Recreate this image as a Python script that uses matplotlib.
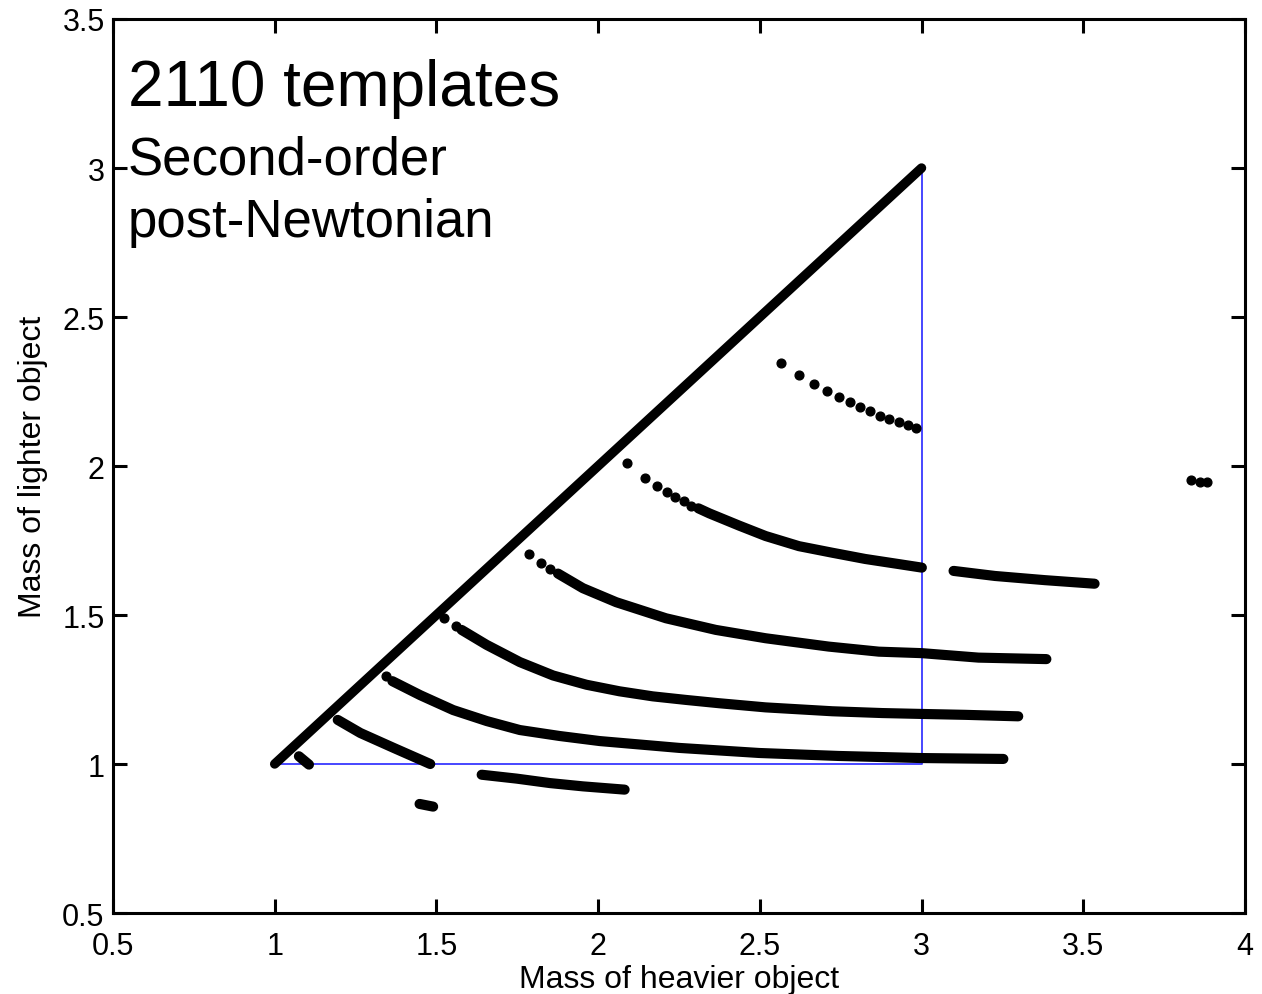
import matplotlib
matplotlib.use("Agg")
import matplotlib.pyplot as plt

plt.rcParams['font.family'] = ['Liberation Sans', 'DejaVu Sans']

# --- DATA ---
# boundary of the template region (blue)
BORDE_X = [1.0, 3.0, 3.0]
BORDE_Y = [1.0, 1.0, 3.0]

# equal-mass diagonal (dense templates)
DIAG_X = [1.0, 3.0]
DIAG_Y = [1.0, 3.0]

# sparse templates (individual dots)
PUNTOS_X = [2.565, 2.621, 2.667, 2.708, 2.745, 2.780, 2.811, 2.841, 2.871, 2.900, 2.930, 2.957, 2.984,
            2.089, 2.144, 2.182, 2.212, 2.239, 2.266, 2.288,
            1.787, 1.824, 1.851,
            1.524, 1.561,
            1.345,
            3.833, 3.862, 3.884]
PUNTOS_Y = [2.346, 2.306, 2.276, 2.252, 2.231, 2.215, 2.198, 2.183, 2.169, 2.158, 2.146, 2.137, 2.126,
            2.011, 1.960, 1.932, 1.912, 1.896, 1.883, 1.867,
            1.704, 1.676, 1.654,
            1.491, 1.463,
            1.295,
            1.952, 1.947, 1.947]

# dense template bands
BANDA_B_X = [2.310, 2.344, 2.436, 2.518, 2.621, 2.724, 2.826, 2.929, 3.001]
BANDA_B_Y = [1.858, 1.841, 1.800, 1.765, 1.731, 1.709, 1.688, 1.671, 1.659]

BANDA_B2_X = [3.099, 3.227, 3.381, 3.535]
BANDA_B2_Y = [1.648, 1.631, 1.617, 1.605]

BANDA_C_X = [1.876, 1.953, 2.056, 2.210, 2.364, 2.518, 2.713, 2.868, 3.001, 3.176, 3.386]
BANDA_C_Y = [1.639, 1.590, 1.543, 1.489, 1.450, 1.422, 1.394, 1.377, 1.372, 1.357, 1.352]

BANDA_D_X = [1.578, 1.655, 1.758, 1.861, 1.964, 2.066, 2.169, 2.272, 2.374, 2.518, 2.724, 2.878, 3.001, 3.135, 3.299]
BANDA_D_Y = [1.450, 1.400, 1.342, 1.297, 1.266, 1.244, 1.227, 1.215, 1.204, 1.190, 1.177, 1.171, 1.168, 1.165, 1.160]

BANDA_E_X = [1.364, 1.450, 1.552, 1.656, 1.758, 1.881, 2.005, 2.251, 2.498, 2.744, 3.000, 3.253]
BANDA_E_Y = [1.278, 1.231, 1.181, 1.144, 1.114, 1.094, 1.077, 1.054, 1.037, 1.027, 1.020, 1.017]

BANDA_F_X = [1.195, 1.265, 1.368, 1.481]
BANDA_F_Y = [1.148, 1.104, 1.054, 1.000]

BANDA_G_X = [1.075, 1.106]
BANDA_G_Y = [1.026, 0.998]

BANDA_H_X = [1.640, 1.748, 1.851, 1.953, 2.082]
BANDA_H_Y = [0.964, 0.951, 0.936, 0.925, 0.914]

BANDA_I_X = [1.448, 1.490]
BANDA_I_Y = [0.866, 0.857]

BANDAS = [(BANDA_B_X, BANDA_B_Y), (BANDA_B2_X, BANDA_B2_Y), (BANDA_C_X, BANDA_C_Y),
          (BANDA_D_X, BANDA_D_Y), (BANDA_E_X, BANDA_E_Y), (BANDA_F_X, BANDA_F_Y),
          (BANDA_G_X, BANDA_G_Y), (BANDA_H_X, BANDA_H_Y), (BANDA_I_X, BANDA_I_Y)]

TICKS_X = [0.5, 1, 1.5, 2, 2.5, 3, 3.5, 4]
TICKS_Y = [0.5, 1, 1.5, 2, 2.5, 3, 3.5]
ETIQ_X = ['0.5', '1', '1.5', '2', '2.5', '3', '3.5', '4']
ETIQ_Y = ['0.5', '1', '1.5', '2', '2.5', '3', '3.5']

# --- FIGURA ---
fig = plt.figure(figsize=(12.62, 9.95), dpi=100)
ax = fig.add_axes([0.0895, 0.0814, 0.8970, 0.8985])

ax.plot(BORDE_X, BORDE_Y, color='#3838ff', lw=1.3, zorder=1)
ax.plot(DIAG_X, DIAG_Y, color='black', lw=6.8, solid_capstyle='round', zorder=2)
for bx, by in BANDAS:
    ax.plot(bx, by, color='black', lw=7.3, solid_capstyle='round', zorder=2)
ax.plot(PUNTOS_X, PUNTOS_Y, 'o', color='black', ms=6.3, zorder=3)

ax.set_xlim(0.5, 4)
ax.set_ylim(0.5, 3.5)
ax.set_xticks(TICKS_X)
ax.set_xticklabels(ETIQ_X)
ax.set_yticks(TICKS_Y)
ax.set_yticklabels(ETIQ_Y)
ax.tick_params(direction='in', length=10, width=2.2, labelsize=22,
               top=True, right=True, pad=6)
ax.tick_params(axis='x', pad=13)
for s in ax.spines.values():
    s.set_linewidth(2.2)

ax.set_xlabel('Mass of heavier object', fontsize=23, labelpad=2)
ax.set_ylabel('Mass of lighter object', fontsize=23, labelpad=10)

ax.text(0.013, 0.904, '2110 templates', transform=ax.transAxes, fontsize=46, va='baseline')
ax.text(0.013, 0.827, 'Second-order', transform=ax.transAxes, fontsize=38, va='baseline')
ax.text(0.013, 0.757, 'post-Newtonian', transform=ax.transAxes, fontsize=38, va='baseline')

fig.savefig('out.png', dpi=100)
